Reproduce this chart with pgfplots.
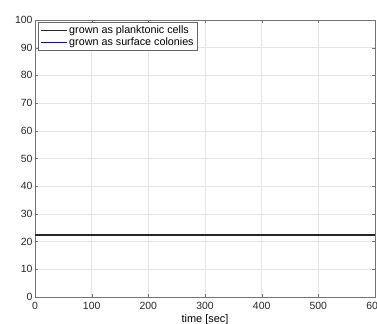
\documentclass[border=0pt]{standalone}
\usepackage{pgfplots}
\pgfplotsset{compat=1.18}
\usepackage{fontspec}
\setmainfont{Liberation Sans}
\begin{document}
\begin{tikzpicture}
\begin{axis}[
  at={(0,0)}, anchor=south west,
  scale only axis,
  width=340bp, height=277bp,
  xmin=0, xmax=600, ymin=0, ymax=100,
  xtick={0,100,...,600}, ytick={0,10,...,100},
  grid=major,
  major grid style={draw=black!10},
  axis line style={draw=black!55},
  tick style={draw=black!55},
  tick align=inside,
  major tick length=3bp,
  /pgf/number format/assume math mode=true,
  ticklabel style={font=\fontsize{10.5}{11}\selectfont, text=black!85},
  xticklabel style={yshift=-1.5bp},
  yticklabel style={xshift=1bp},
  xlabel={time [sec]},
  xlabel style={font=\fontsize{11}{12}\selectfont, yshift=2bp},
  legend cell align=left,
  legend style={at={(rel axis cs:0.009,0.993)}, anchor=north west,
    font=\fontsize{10.8}{12}\selectfont, draw=black!60, inner sep=1.5bp,
    row sep=-1bp},
  legend image code/.code={\draw[#1, line width=1.5pt] (0bp,0bp) -- (26bp,0bp);},
]
\addplot[black!85, line width=1.5pt] coordinates {(0,22.3) (600,22.3)};
\addlegendentry{grown as planktonic cells}
\addplot[blue, line width=1.5pt] coordinates {(0,22.3) (600,22.3)};
\addlegendentry{grown as surface colonies}
\addplot[black!85, line width=1.5pt, forget plot] coordinates {(0,22.3) (600,22.3)};
\end{axis}
\pgfresetboundingbox
\path[use as bounding box] (-35bp,-27bp) rectangle (342bp,297bp);
\end{tikzpicture}
\end{document}
